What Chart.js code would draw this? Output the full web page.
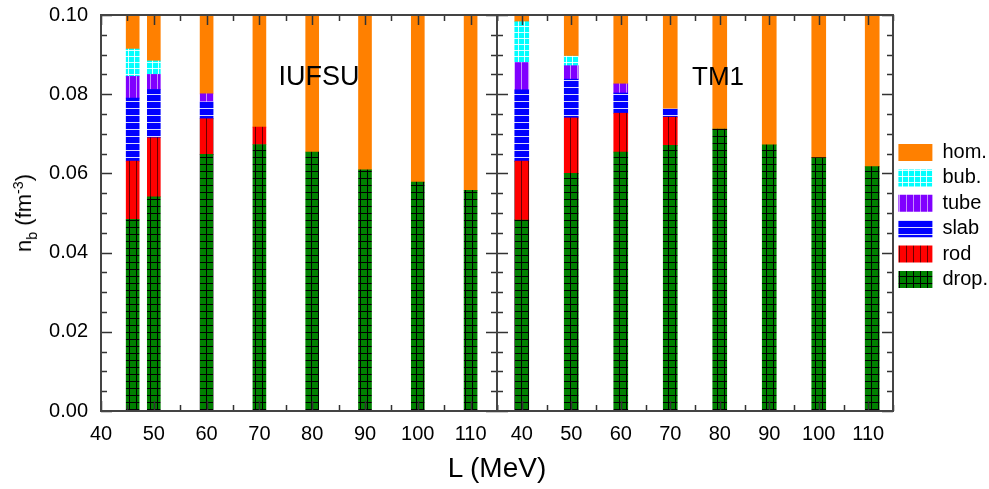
<!DOCTYPE html>
<html>
<head>
<meta charset="utf-8">
<script src="https://cdn.jsdelivr.net/npm/chart.js@4.4.1/dist/chart.umd.min.js"></script>
<style>
  body { margin: 0; background: #fff; }
  #wrap { position: relative; width: 989px; height: 489px; font-family: 'Liberation Sans', Arial, sans-serif; color: #000; }
  #wrap canvas { position: absolute; left: 0; top: 0; }
  .lbl { position: absolute; transform: translate(-50%, -50%); white-space: nowrap; line-height: 1; }
  .lbl sub, .lbl sup { font-size: 65%; }
</style>
</head>
<body>
<div id="wrap">
  <canvas id="iufsuChart" width="989" height="489"></canvas>
  <canvas id="tm1Chart" width="989" height="489"></canvas>
  <div class="lbl" style="left:319px;top:76px;font-size:27px">IUFSU</div>
  <div class="lbl" style="left:718px;top:76px;font-size:26px">TM1</div>
  <div class="lbl" style="left:497px;top:468px;font-size:28px">L (MeV)</div>
  <div class="lbl" style="left:25px;top:213px;font-size:22px;transform:translate(-50%,-50%) rotate(-90deg)">n<sub>b</sub> (fm<sup>-3</sup>)</div>
</div>
<script>
// phase order from bottom to top of each bar
const phases = ['drop.', 'rod', 'slab', 'tube', 'bub.', 'hom.'];
const nbMax = 0.10;
const xTickValues = [40, 50, 60, 70, 80, 90, 100, 110];

// IUFSU: upper density of each phase (null = phase absent)
const iufsuL    = [46, 50, 60, 70, 80, 90, 100, 110];
const iufsuDrop = [0.0484, 0.0541, 0.0648, 0.0673, 0.0654, 0.0609, 0.0578, 0.0557];
const iufsuRod  = [0.0631, 0.0690, 0.0738, 0.0717, null, null, null, null];
const iufsuSlab = [0.0790, 0.0812, 0.0781, null, null, null, null, null];
const iufsuTube = [0.0845, 0.0850, 0.0801, null, null, null, null, null];
const iufsuBub  = [0.0914, 0.0884, null, null, null, null, null, null];

// TM1
const tm1L    = [40, 50, 60, 70, 80, 90, 100, 110.8];
const tm1Drop = [0.0482, 0.0600, 0.0654, 0.0671, 0.0712, 0.0672, 0.0640, 0.0617];
const tm1Rod  = [0.0631, 0.0740, 0.0752, 0.0742, null, null, null, null];
const tm1Slab = [0.0811, 0.0838, 0.0803, 0.0763, null, null, null, null];
const tm1Tube = [0.0880, 0.0872, 0.0826, null, null, null, null, null];
const tm1Bub  = [0.0983, 0.0896, null, null, null, null, null, null];

function pattern(bg, size, draw) {
  const c = document.createElement('canvas');
  c.width = size; c.height = size;
  const g = c.getContext('2d');
  g.fillStyle = bg;
  g.fillRect(0, 0, size, size);
  if (draw) draw(g);
  return g.createPattern(c, 'repeat');
}

const fills = [
  pattern('#008000', 7, g => { g.fillStyle = '#000'; g.fillRect(3, 0, 1, 7); g.fillRect(0, 3, 7, 1); }),
  pattern('#ff0000', 7, g => { g.fillStyle = '#6a0000'; g.fillRect(3, 0, 1, 7); }),
  pattern('#0000ff', 7, g => { g.fillStyle = 'rgba(255,255,255,0.85)'; g.fillRect(0, 3, 7, 1); }),
  pattern('#8000ff', 7, g => { g.fillStyle = '#c890ff'; g.fillRect(3, 0, 1, 7); }),
  pattern('#00ffff', 6, g => { g.fillStyle = 'rgba(255,255,255,0.85)'; g.fillRect(2, 0, 1, 6); g.fillRect(0, 2, 6, 1); }),
  '#ff8000'
];

function buildDatasets(L, bounds, thickness) {
  const sets = phases.map((p, k) => ({ label: p, data: [], backgroundColor: fills[k], borderWidth: 0, barThickness: thickness, grouped: false }));
  L.forEach((x, i) => {
    let lo = 0;
    bounds.forEach((b, k) => {
      if (b[i] == null) return;
      sets[k].data.push({ x: x, y: [lo, b[i]] });
      lo = b[i];
    });
    sets[5].data.push({ x: x, y: [lo, nbMax] });
  });
  return sets;
}

// frame + inward ticks on all four sides
const frameTicks = {
  id: 'frameTicks',
  afterDatasetsDraw(chart) {
    const { ctx, chartArea: a, scales: { x, y } } = chart;
    ctx.save();
    ctx.strokeStyle = '#333';
    ctx.lineWidth = 1.5;
    ctx.beginPath();
    for (let v = Math.ceil(x.min / 5) * 5; v <= x.max; v += 5) {
      const px = Math.round(x.getPixelForValue(v)) + 0.5;
      const len = v % 10 === 0 ? 10 : 6;
      ctx.moveTo(px, a.bottom); ctx.lineTo(px, a.bottom - len);
      ctx.moveTo(px, a.top); ctx.lineTo(px, a.top + len);
    }
    for (let k = 0; k <= 20; k++) {
      const py = Math.round(y.getPixelForValue(k * 0.005)) + 0.5;
      const len = k % 4 === 0 ? 11 : 6;
      ctx.moveTo(a.left, py); ctx.lineTo(a.left + len, py);
      ctx.moveTo(a.right, py); ctx.lineTo(a.right - len, py);
    }
    ctx.stroke();
    ctx.lineWidth = 2;
    ctx.strokeStyle = '#444';
    ctx.strokeRect(a.left, a.top, a.right - a.left, a.bottom - a.top);
    ctx.restore();
  }
};

const tickFont = { family: "'Liberation Sans', Arial, sans-serif", size: 20 };

function xAxis(min, max) {
  return {
    type: 'linear', min: min, max: max, offset: false,
    grid: { display: false, drawTicks: false }, border: { display: false },
    ticks: { color: '#000', font: tickFont, padding: 11, maxRotation: 0, autoSkip: false, callback: v => v },
    afterBuildTicks: s => { s.ticks = xTickValues.map(v => ({ value: v })); },
    afterFit: s => { s.height = 78; s.paddingLeft = 0; s.paddingRight = 0; }
  };
}

Chart.defaults.font.family = "'Liberation Sans', Arial, sans-serif";

new Chart(document.getElementById('iufsuChart'), {
  type: 'bar',
  data: { datasets: buildDatasets(iufsuL, [iufsuDrop, iufsuRod, iufsuSlab, iufsuTube, iufsuBub], 13) },
  options: {
    responsive: false, animation: false, events: [],
    layout: { padding: { left: 0, top: 15, right: 492, bottom: 0 } },
    plugins: { legend: { display: false }, tooltip: { enabled: false } },
    scales: {
      x: xAxis(40, 115),
      y: {
        min: 0, max: nbMax,
        grid: { display: false, drawTicks: false }, border: { display: false },
        ticks: { stepSize: 0.02, color: '#000', font: tickFont, padding: 13, callback: v => v.toFixed(2) },
        afterFit: s => { s.width = 101; s.paddingTop = 0; s.paddingBottom = 0; }
      }
    }
  },
  plugins: [frameTicks]
});

new Chart(document.getElementById('tm1Chart'), {
  type: 'bar',
  data: { datasets: buildDatasets(tm1L, [tm1Drop, tm1Rod, tm1Slab, tm1Tube, tm1Bub], 14) },
  options: {
    responsive: false, animation: false, events: [],
    layout: { padding: { left: 497, top: 15, right: 0, bottom: 0 } },
    plugins: {
      tooltip: { enabled: false },
      legend: {
        position: 'right', reverse: true, fullSize: false, maxWidth: 96,
        title: { display: true, text: '', padding: 0, font: { size: 5 } },
        labels: { boxWidth: 34, boxHeight: 17, padding: 5.4, color: '#000', font: { size: 20 } }
      }
    },
    scales: {
      x: xAxis(35, 115),
      y: { min: 0, max: nbMax, display: false }
    }
  },
  plugins: [frameTicks]
});
</script>
</body>
</html>
